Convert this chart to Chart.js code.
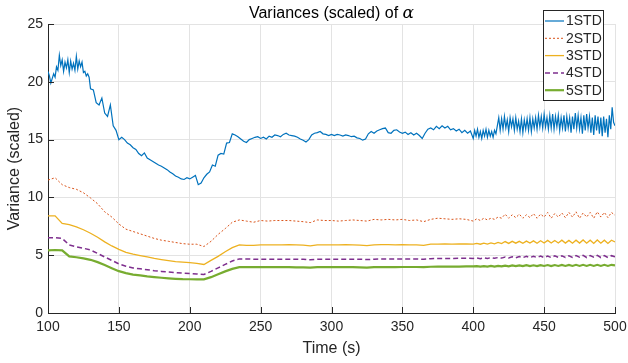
<!DOCTYPE html>
<html>
<head>
<meta charset="utf-8">
<script src="https://cdn.jsdelivr.net/npm/chart.js@4.4.0/dist/chart.umd.min.js"></script>
<style>
html, body { margin: 0; padding: 0; background: #fff; }
</style>
</head>
<body>
<canvas id="variances" width="628" height="363"></canvas>
<script>
var seriesNames = ["1STD", "2STD", "3STD", "4STD", "5STD"];
var xTicks = [100, 150, 200, 250, 300, 350, 400, 450, 500];
var yTicks = [0, 5, 10, 15, 20, 25];

// time grids (s): 1STD every 1 s where it is noisy, 2 s elsewhere;
// the others every 5 s then 2.5 s
var tFine = [];
var t;
for (t = 100; t <= 130; t += 1) tFine.push(t);
for (t = 132; t <= 400; t += 2) tFine.push(t);
for (t = 401; t <= 500; t += 1) tFine.push(t);
var tCoarse = [];
for (t = 100; t <= 400; t += 5) tCoarse.push(t);
for (t = 402.5; t <= 500; t += 2.5) tCoarse.push(t);

var std1 = [
  // 100-130 (1 s)
  20.9, 20.5, 19.9, 20.3, 20.7, 20.4, 21.3, 21.0, 22.3, 21.4,
  21.9, 20.9, 21.7, 21.2, 21.9, 20.8, 21.8, 21.1, 21.6, 21.0,
  22.2, 21.1, 21.8, 21.3, 21.7, 20.8, 20.9, 20.5, 20.7, 20.4,
  19.4,
  // 132-400 (2 s)
  19.3, 18.2, 18.0, 18.6,
  17.3, 17.0, 18.0, 16.2, 15.8, 15.0, 15.2, 15.0, 14.7, 14.55,
  14.3, 14.15, 13.8, 13.6, 13.85, 13.4, 13.25, 13.1, 12.95, 12.8,
  12.7, 12.55, 12.4, 12.2, 12.05, 11.85, 11.75, 11.6, 11.55, 11.7,
  11.6, 11.75, 11.9, 11.1, 11.25, 11.7, 12.0, 12.2, 12.8, 12.7,
  13.65, 13.8, 13.75, 14.7, 14.75, 15.5, 15.4, 15.25, 15.05, 14.85,
  14.75, 15.0, 15.1, 15.2, 15.25, 15.1, 15.2, 15.05, 15.3, 15.2,
  15.4, 15.35, 15.25, 15.45, 15.55, 15.4, 15.35, 15.3, 15.2, 15.05,
  14.95, 14.8, 15.0, 15.4, 15.55, 15.6, 15.7, 15.5, 15.45, 15.35,
  15.45, 15.35, 15.45, 15.4, 15.3, 15.4, 15.35, 15.25, 15.3, 15.15,
  15.1, 14.95, 15.05, 15.5, 15.7, 15.55, 15.75, 15.85, 15.95, 16.0,
  15.6, 15.55, 15.8, 15.85, 15.65, 15.55, 15.65, 15.45, 15.6, 15.4,
  15.55, 15.35, 15.1, 15.55, 15.9, 16.0, 15.85, 16.15, 15.95, 16.2,
  16.0, 16.15, 15.85, 15.95, 15.75, 15.9, 15.6, 15.8, 15.55, 15.75,
  15.1,
  // 401-500 (1 s)
  15.8, 15.3, 15.9, 15.2, 15.7, 15.1, 15.8, 15.3, 15.9, 15.2,
  15.8, 15.3, 15.7, 15.2, 15.8, 15.5, 16.2, 16.9, 15.8, 16.8,
  15.9, 17.0, 16.0, 16.7, 15.7, 16.9, 16.1, 16.8, 15.8, 16.9,
  15.9, 16.6, 15.7, 16.8, 15.6, 16.7, 15.9, 16.8, 15.8, 16.9,
  15.7, 16.8, 16.0, 16.9, 15.9, 17.1, 16.1, 17.0, 16.0, 17.2,
  16.1, 16.9, 15.9, 17.1, 16.0, 17.2, 15.9, 17.0, 16.1, 17.1,
  15.8, 16.9, 16.0, 17.1, 15.7, 17.0, 16.0, 16.9, 15.6, 17.0,
  15.9, 17.3, 16.0, 17.1, 15.9, 16.9, 15.5, 17.1, 15.8, 17.2,
  16.0, 17.0, 15.6, 16.9, 15.4, 17.1, 15.8, 17.0, 15.5, 16.9,
  15.3, 17.0, 15.6, 16.8, 15.2, 17.1, 15.9, 17.8, 16.5, 16.2
];

var std2 = [
  11.5, 11.7, 11.1, 10.85, 10.7, 10.4, 9.95, 9.45, 8.75, 8.3,
  7.7, 7.25, 7.05, 6.85, 6.65, 6.45, 6.3, 6.2, 6.1, 6.0,
  5.95, 5.95, 5.75, 6.2, 6.8, 7.3, 7.85, 8.05, 7.95, 7.85,
  8.0, 7.95, 8.0, 8.0, 8.0, 7.95, 7.9, 7.82, 8.05, 8.0,
  8.0, 7.95, 8.0, 8.05, 8.0, 7.95, 8.1, 8.05, 8.1, 8.05,
  8.1, 8.0, 8.05, 7.9, 8.1, 8.2, 8.15, 8.1, 8.15, 8.1,
  7.95,
  8.15, 8.0, 8.2, 8.05, 8.2, 8.1, 8.3, 8.2, 8.55, 8.2,
  8.5, 8.25, 8.55, 8.2, 8.5, 8.25, 8.6, 8.2, 8.55, 8.3,
  8.7, 8.2, 8.6, 8.3, 8.65, 8.25, 8.7, 8.3, 8.75, 8.2,
  8.65, 8.3, 8.7, 8.2, 8.75, 8.3, 8.7, 8.25, 8.7, 8.45
];

var std3 = [
  8.4, 8.4, 7.75, 7.65, 7.45, 7.2, 6.9, 6.55, 6.15, 5.8,
  5.5, 5.25, 5.1, 4.97, 4.85, 4.72, 4.62, 4.53, 4.45, 4.4,
  4.35, 4.3, 4.2, 4.55, 4.9, 5.3, 5.65, 5.9, 5.85, 5.85,
  5.9, 5.9, 5.9, 5.9, 5.92, 5.9, 5.88, 5.8, 5.9, 5.9,
  5.9, 5.9, 5.92, 5.9, 5.88, 5.82, 5.9, 5.92, 5.92, 5.9,
  5.92, 5.9, 5.9, 5.85, 5.95, 5.95, 5.97, 5.95, 5.97, 5.97,
  5.95,
  6.02, 5.95, 6.05, 5.96, 6.07, 5.98, 6.1, 6.0, 6.18, 6.02,
  6.2, 6.04, 6.2, 6.03, 6.22, 6.05, 6.24, 6.04, 6.25, 6.06,
  6.28, 6.05, 6.27, 6.06, 6.3, 6.05, 6.28, 6.04, 6.3, 6.05,
  6.32, 6.04, 6.3, 6.02, 6.32, 6.04, 6.3, 6.02, 6.3, 6.15
];

var std4 = [
  6.5, 6.52, 6.45, 5.88, 5.72, 5.6, 5.45, 5.15, 4.85, 4.55,
  4.25, 4.05, 3.9, 3.82, 3.74, 3.66, 3.6, 3.55, 3.5, 3.45,
  3.42, 3.38, 3.33, 3.6, 3.9, 4.2, 4.5, 4.68, 4.68, 4.65,
  4.65, 4.66, 4.65, 4.65, 4.66, 4.66, 4.65, 4.6, 4.66, 4.66,
  4.66, 4.65, 4.66, 4.66, 4.65, 4.62, 4.66, 4.67, 4.67, 4.67,
  4.68, 4.67, 4.68, 4.65, 4.7, 4.72, 4.72, 4.72, 4.73, 4.73,
  4.72,
  4.76, 4.7, 4.78, 4.72, 4.79, 4.73, 4.8, 4.75, 4.85, 4.76,
  4.87, 4.78, 4.88, 4.79, 4.9, 4.8, 4.9, 4.8, 4.92, 4.8,
  4.92, 4.8, 4.94, 4.81, 4.94, 4.8, 4.95, 4.8, 4.96, 4.82,
  4.98, 4.8, 4.97, 4.82, 4.98, 4.8, 4.97, 4.8, 4.96, 4.86
];

var std5 = [
  5.42, 5.45, 5.42, 4.9, 4.82, 4.72, 4.6, 4.4, 4.15, 3.88,
  3.62, 3.45, 3.32, 3.25, 3.17, 3.11, 3.05, 3.0, 2.96, 2.93,
  2.92, 2.91, 2.91, 3.1, 3.35, 3.6, 3.82, 3.97, 3.97, 3.96,
  3.96, 3.96, 3.96, 3.96, 3.96, 3.95, 3.94, 3.92, 3.96, 3.96,
  3.96, 3.96, 3.96, 3.96, 3.95, 3.93, 3.96, 3.97, 3.97, 3.97,
  3.98, 3.98, 3.98, 3.97, 4.0, 4.01, 4.02, 4.02, 4.02, 4.03,
  4.03,
  4.05, 4.01, 4.06, 4.02, 4.07, 4.02, 4.08, 4.03, 4.1, 4.04,
  4.11, 4.05, 4.12, 4.05, 4.13, 4.06, 4.13, 4.06, 4.14, 4.07,
  4.15, 4.06, 4.15, 4.07, 4.16, 4.07, 4.16, 4.07, 4.17, 4.07,
  4.17, 4.07, 4.17, 4.07, 4.17, 4.07, 4.17, 4.07, 4.17, 4.12
];

var colors = ["#0072BD", "#D95319", "#EDB120", "#7E2F8E", "#77AC30"];
var dashes = [[], [2, 2], [], [5, 3], []];
var widths = [1.2, 1, 1.3, 1.5, 2.2];

function pts(ts, vs) {
  return vs.map(function (v, i) { return { x: ts[i], y: v }; });
}

var seriesData = [pts(tFine, std1), pts(tCoarse, std2), pts(tCoarse, std3), pts(tCoarse, std4), pts(tCoarse, std5)];
var datasets = seriesNames.map(function (name, i) {
  return {
    label: name,
    data: seriesData[i],
    borderColor: colors[i],
    borderWidth: widths[i],
    borderDash: dashes[i],
    pointRadius: 0,
    tension: 0,
    fill: false
  };
});

var ink = "#262626";
var sans = "'Liberation Sans', Arial, sans-serif";

// MATLAB style: ticks inside, title with TeX alpha, boxed legend
var matlabBits = {
  id: "matlabBits",
  afterDraw: function (chart) {
    var ctx = chart.ctx, a = chart.chartArea;
    var sx = chart.scales.x, sy = chart.scales.y;
    ctx.save();
    ctx.strokeStyle = ink;
    ctx.lineWidth = 1;
    ctx.beginPath();
    xTicks.forEach(function (v) {
      var px = Math.round(sx.getPixelForValue(v)) + 0.5;
      ctx.moveTo(px, a.bottom); ctx.lineTo(px, a.bottom - 6);
    });
    yTicks.forEach(function (v) {
      var py = Math.round(sy.getPixelForValue(v)) + 0.5;
      ctx.moveTo(a.left, py); ctx.lineTo(a.left + 6, py);
    });
    ctx.stroke();

    // title
    var t1 = "Variances (scaled) of ";
    ctx.font = "16px " + sans;
    var w1 = ctx.measureText(t1).width;
    ctx.font = "italic 17px 'DejaVu Serif', serif";
    var w2 = ctx.measureText("\u03B1").width;
    var x0 = (a.left + a.right) / 2 - (w1 + w2) / 2;
    ctx.fillStyle = "#000";
    ctx.textBaseline = "alphabetic";
    ctx.textAlign = "left";
    ctx.font = "16px " + sans;
    ctx.fillText(t1, x0, 18);
    ctx.font = "italic 17px 'DejaVu Serif', serif";
    ctx.fillText("\u03B1", x0 + w1, 18);

    // legend
    var bx = 543.5, by = 10.5, bw = 60, bh = 90;
    ctx.fillStyle = "#fff";
    ctx.fillRect(bx, by, bw, bh);
    ctx.strokeStyle = ink;
    ctx.setLineDash([]);
    ctx.strokeRect(bx, by, bw, bh);
    ctx.font = "14px " + sans;
    ctx.textBaseline = "middle";
    seriesNames.forEach(function (name, i) {
      var ry = 21 + i * 17.3;
      ctx.strokeStyle = colors[i];
      ctx.lineWidth = widths[i];
      ctx.setLineDash(dashes[i]);
      ctx.beginPath();
      ctx.moveTo(545, ry); ctx.lineTo(564, ry);
      ctx.stroke();
      ctx.fillStyle = ink;
      ctx.fillText(name, 566, ry + 0.5);
    });
    ctx.restore();
  }
};

new Chart(document.getElementById("variances"), {
  type: "line",
  data: { datasets: datasets },
  options: {
    responsive: false,
    animation: false,
    devicePixelRatio: 1,
    layout: { padding: { top: 24, right: 13, left: 0, bottom: 0 } },
    plugins: {
      legend: { display: false },
      title: { display: false },
      tooltip: { enabled: false }
    },
    scales: {
      x: {
        type: "linear",
        min: 100,
        max: 500,
        ticks: { stepSize: 50, padding: 6, maxRotation: 0, color: ink, font: { family: sans, size: 14 } },
        grid: { color: "#e3e3e3", drawTicks: false },
        border: { display: true, color: ink, width: 1 },
        title: { display: true, text: "Time (s)", color: ink, font: { family: sans, size: 16 }, padding: { top: 0, bottom: 5 } },
        afterFit: function (s) { s.height = 50; s.paddingLeft = 0; s.paddingRight = 0; }
      },
      y: {
        min: 0,
        max: 25,
        ticks: { stepSize: 5, padding: 5, color: ink, font: { family: sans, size: 14 } },
        grid: { color: "#e3e3e3", drawTicks: false },
        border: { display: true, color: ink, width: 1 },
        title: { display: true, text: "Variance (scaled)", color: ink, font: { family: sans, size: 16 }, padding: { top: 5, bottom: 0 } },
        afterFit: function (s) { s.width = 48; s.paddingTop = 0; s.paddingBottom = 0; }
      }
    }
  },
  plugins: [matlabBits]
});
</script>
</body>
</html>
